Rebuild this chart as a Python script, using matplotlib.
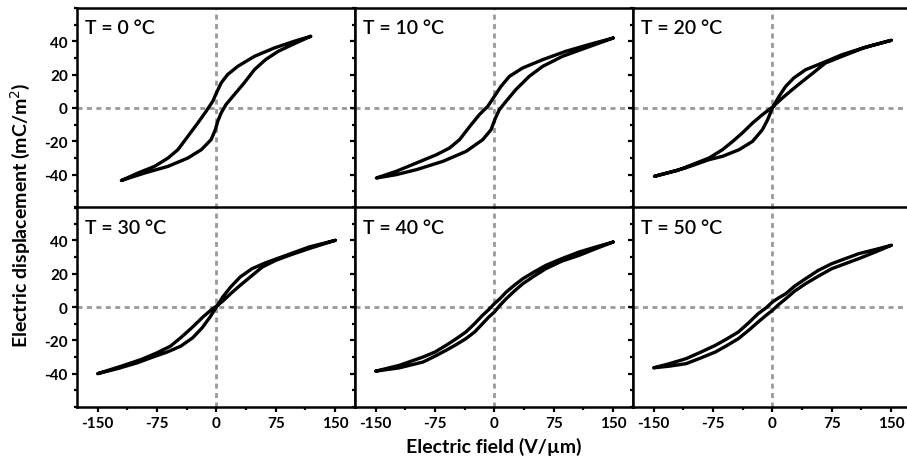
import matplotlib
matplotlib.use("Agg")
import matplotlib.pyplot as plt
from matplotlib.ticker import MultipleLocator

plt.rcParams['font.family'] = ['Lato', 'DejaVu Sans']
plt.rcParams['axes.unicode_minus'] = False

# Temperaturas dos paineis
temps = [0, 10, 20, 30, 40, 50]

# Ramo descendente (campo de +Emax a -Emax) e ascendente
e_up_0 = [119, 98, 73, 48, 27, 14, 6, 0, -4.6, -13, -23.5, -36, -48.6, -61, -78, -99, -120]
d_up_0 = [43, 40, 36, 31, 25, 20, 15, 9, 4, -2, -9, -17, -25, -30, -35, -39, -43.5]
e_lo_0 = [-90.5, -61, -36, -19, -6.7, -1.3, 1.7, 6, 12, 22.6, 35, 48, 62, 78, 98, 119]
d_lo_0 = [-39, -35, -30, -25, -19, -13, -8, -3, 2, 8, 15, 23, 29, 34, 38.5, 43]

e_up_10 = [150, 119, 90, 61, 35.6, 19, 8.4, 0, -8.4, -19, -31, -44, -56.6, -73, -98.5, -124, -149]
d_up_10 = [42, 38, 34, 29, 24, 19, 13, 7, 1, -4, -11, -19, -24, -28, -33, -38, -42]
e_lo_10 = [-124, -98.5, -65, -35.6, -14.7, -4.2, 1.3, 6.3, 14.7, 27, 44, 61, 86, 115, 150]
d_lo_10 = [-40, -37, -32, -26, -19, -13, -6, -1, 4, 11, 19, 25, 31, 36, 42]

e_up_20 = [150, 121, 88, 63, 42, 27, 16.8, 8.4, 0, -6, -12.6, -25, -42, -63, -80, -110, -149]
d_up_20 = [40.6, 37, 32, 27, 23, 18, 13, 7, 0, -7, -13, -20, -25, -29, -31, -36, -41]
e_lo_20 = [-120, -80, -63, -50, -38, -25, -12.6, 0, 12.6, 25, 38, 50, 67, 88, 115, 150]
d_lo_20 = [-37.5, -30, -25, -20, -15, -9, -4, 0.5, 6, 11, 16, 20.5, 27, 31, 36, 40.6]

e_up_30 = [150, 117, 88, 62, 45, 30, 18, 8, 0, -8, -18, -30, -45, -62, -80, -100, -125, -150]
d_up_30 = [40, 36, 31, 26.5, 23, 18, 12, 6, 0, -6, -12.5, -18.5, -23.5, -27, -30, -33.5, -37, -40]
e_lo_30 = [-120, -95, -75, -58, -44, -30, -17, -6, 0, 8, 18, 30, 44, 58, 75, 95, 120, 150]
d_lo_30 = [-35.5, -31.5, -27.5, -23.5, -18, -12, -6, -1.5, 0.5, 3.5, 8, 13, 18.5, 24, 28, 31.5, 35.5, 40]

e_up_40 = [150, 128, 107, 85, 65, 50, 36, 25, 15, 7, 0, -7, -15, -25, -36, -48, -61, -75, -90, -120, -150]
d_up_40 = [39, 36, 33, 29, 25, 21, 17, 13, 9, 5, 2, -1.5, -5, -10, -15, -19, -23, -27, -30, -35, -38.5]
e_lo_40 = [-120, -90, -75, -61, -48, -36, -25, -15, -7, 0, 7, 15, 25, 36, 50, 65, 85, 107, 128, 150]
d_lo_40 = [-36.5, -33, -29.5, -26, -22.5, -19, -15, -10, -6, -3, 1, 5, 9.5, 14, 18.5, 23, 27.5, 31, 35, 39]

e_up_50 = [150, 130, 109, 92, 75, 58, 42, 28, 17, 8, 0, -8, -18, -30, -43, -57, -72, -90, -109, -130, -150]
d_up_50 = [37, 34.5, 32, 29, 26, 22, 17, 12.5, 8, 5.5, 3, -0.5, -4, -9.5, -15, -19, -23, -27, -31, -34, -36.5]
e_lo_50 = [-130, -109, -90, -72, -57, -43, -30, -18, -8, 0, 8, 17, 28, 42, 58, 75, 92, 109, 130, 150]
d_lo_50 = [-35.5, -34, -30.5, -27, -23, -19, -14, -9, -5, -2, 1.5, 5, 9.5, 14, 18.5, 23, 26, 29, 33, 37]

loops = {
    0: (e_up_0 + e_lo_0, d_up_0 + d_lo_0),
    10: (e_up_10 + e_lo_10, d_up_10 + d_lo_10),
    20: (e_up_20 + e_lo_20, d_up_20 + d_lo_20),
    30: (e_up_30 + e_lo_30, d_up_30 + d_lo_30),
    40: (e_up_40 + e_lo_40, d_up_40 + d_lo_40),
    50: (e_up_50 + e_lo_50, d_up_50 + d_lo_50),
}

x_ticks = [-150, -75, 0, 75, 150]
y_ticks = [-40, -20, 0, 20, 40]

fig = plt.figure(figsize=(9.07, 4.60), dpi=100)

# Posicoes dos paineis em pixels (esquerda, topo)
W, H = 907.0, 460.0
col_left = [77, 355, 633]
row_top = [9, 208]
pw, ph = 278, 200

for i, t in enumerate(temps):
    r, c = divmod(i, 3)
    ax = fig.add_axes([col_left[c] / W, 1 - (row_top[r] + ph) / H, pw / W, ph / H])
    ax.axhline(0, color='#999999', lw=2.0, ls=(0, (1.8, 1.6)), zorder=1)
    ax.axvline(0, color='#999999', lw=2.0, ls=(0, (1.8, 1.6)), zorder=1)
    e, d = loops[t]
    ax.plot(e, d, color='black', lw=2.4, solid_joinstyle='round',
            solid_capstyle='round', zorder=3)

    ax.set_xlim(-176, 175)
    ax.set_ylim(-60, 60)
    ax.set_xticks(x_ticks)
    ax.set_yticks(y_ticks)
    ax.xaxis.set_minor_locator(MultipleLocator(37.5))
    ax.yaxis.set_minor_locator(MultipleLocator(10))
    ax.tick_params(which='major', direction='out', length=3.5, width=1.6, pad=3)
    ax.tick_params(which='minor', direction='out', length=2.5, width=1.6)
    for lab in ax.get_xticklabels() + ax.get_yticklabels():
        lab.set_fontweight('bold')
        lab.set_fontsize(11)
    if r == 0:
        ax.set_xticklabels([])
    if c != 0:
        ax.set_yticklabels([])
    for s in ax.spines.values():
        s.set_linewidth(1.8)
    ax.text(0.03, 0.9, f"T = {t} °C", transform=ax.transAxes,
            fontsize=14, fontweight='semibold', va='center', ha='left')

fig.text(0.022, 1 - 215 / H, "Electric displacement (mC/m$^2$)", rotation=90,
         ha='center', va='center', fontsize=14, fontweight='bold')
fig.text(494 / W, 1 - 447 / H, "Electric field (V/µm)",
         ha='center', va='center', fontsize=14, fontweight='bold')

fig.savefig("out.png", dpi=100)
plt.close(fig)
